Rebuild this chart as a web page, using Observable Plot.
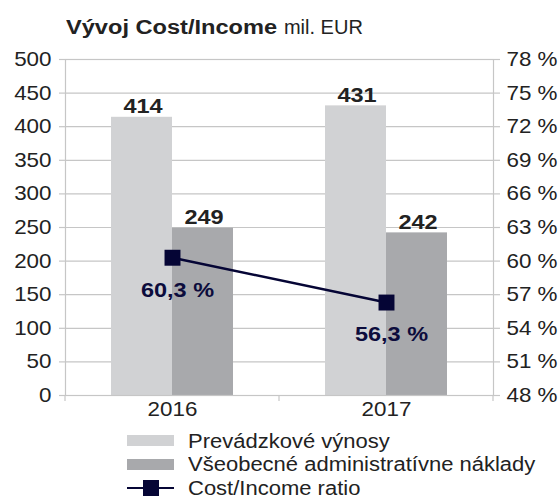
<!DOCTYPE html>
<html>
<head>
<meta charset="utf-8">
<script src="https://cdn.jsdelivr.net/npm/d3@7"></script>
<script src="https://cdn.jsdelivr.net/npm/@observablehq/plot@0.6"></script>
<style>
  html, body { margin: 0; padding: 0; background: #fff; }
  body { width: 559px; height: 498px; overflow: hidden; font-family: "Liberation Sans", Arial, sans-serif; color: #222; }
  #title { height: 44px; box-sizing: border-box; padding: 15px 0 0 66px; font-size: 20px; line-height: 24px; white-space: nowrap; }
  #title b { display: inline-block; transform: scaleX(1.18); transform-origin: 0 50%; margin-right: 39px; }
  #legend { padding-left: 127px; margin-top: -1px; }
  .row { display: flex; align-items: center; height: 23.5px; font-size: 20px; line-height: 22px; color: #222; white-space: nowrap; }
  .row span { display: inline-block; transform: scaleX(1.1); transform-origin: 0 50%; }
  .sw { width: 47px; height: 11px; margin-right: 14px; flex: none; }
  .ln { width: 47px; height: 16px; margin-right: 14px; position: relative; flex: none; }
  .ln::before { content: ""; position: absolute; left: 0; right: 0; top: 7px; height: 2.5px; background: #050535; }
  .ln::after { content: ""; position: absolute; left: 16px; top: 0; width: 16px; height: 16px; background: #050535; }
</style>
</head>
<body>
<div id="title"><b>Vývoj Cost/Income</b>mil. EUR</div>
<div id="chart"></div>
<div id="legend"></div>
<script>
const years = ["2016", "2017"];
const seriesNames = ["Prevádzkové výnosy", "Všeobecné administratívne náklady"];
const prevadzkoveVynosy = [414, 431];
const administrativneNaklady = [249, 242];
const costIncome = [60.3, 56.3];
const leftTicks = [0, 50, 100, 150, 200, 250, 300, 350, 400, 450, 500];
const rightTicks = [48, 51, 54, 57, 60, 63, 66, 69, 72, 75, 78];
const lineName = "Cost/Income ratio";

const colors = ["#d1d2d4", "#a8a9ac"];
const lineColor = "#050535";
const gridColor = "#c6c6c6";
const SX = 1.12;

const rMin = 48, rMax = 78, lMax = 500;
const toLeft = p => (p - rMin) / (rMax - rMin) * lMax;

const bars = years.flatMap((y, i) => [
  {year: y, s: 0, value: prevadzkoveVynosy[i]},
  {year: y, s: 1, value: administrativneNaklady[i]}
]);
const ratio = years.map((y, i) => ({year: y, pct: costIncome[i]}));

const bandTicks = (index, scales, values, dims) => {
  const xs = scales.x;
  const bw = typeof xs.bandwidth === "function" ? xs.bandwidth() : xs.bandwidth;
  const pos = years.map(y => xs(y)).concat([xs(years[years.length - 1]) + bw]);
  const g = d3.create("svg:g").attr("stroke", gridColor).attr("stroke-width", 1.2);
  const yb = dims.height - dims.marginBottom;
  for (const p of pos) g.append("line").attr("x1", p).attr("x2", p).attr("y1", yb).attr("y2", yb + 6);
  return g.node();
};

const plot = Plot.plot({
  width: 559,
  height: 386,
  marginLeft: 65,
  marginRight: 66,
  marginTop: 15,
  marginBottom: 35,
  style: {fontFamily: "Liberation Sans, Arial, sans-serif", fontSize: "20px", color: "#222", background: "#fff"},
  x: {type: "band", domain: years, padding: 0, label: null},
  y: {domain: [0, lMax], label: null},
  marks: [
    Plot.gridY(leftTicks, {stroke: gridColor, strokeOpacity: 1, strokeWidth: 1.2}),
    Plot.barY(bars.filter(d => d.s === 0), {x: "year", y: "value", fill: colors[0], insetLeft: 46, insetRight: 107}),
    Plot.barY(bars.filter(d => d.s === 1), {x: "year", y: "value", fill: colors[1], insetLeft: 107, insetRight: 46}),
    Plot.frame({stroke: gridColor, strokeWidth: 1.2}),
    Plot.axisY(leftTicks, {anchor: "left", tickSize: 6, tickPadding: 8, stroke: gridColor, strokeWidth: 1.2, fill: "#222", fontSize: 20, label: null}),
    Plot.axisY(rightTicks.map(toLeft), {anchor: "right", tickSize: 6, tickPadding: 7, stroke: gridColor, strokeWidth: 1.2, fill: "#222", fontSize: 20, label: null,
      tickFormat: v => `${Math.round(v / lMax * (rMax - rMin) + rMin)} %`}),
    Plot.axisX(years, {anchor: "bottom", tickSize: 0, tickPadding: 6, fill: "#222", fontSize: 20, label: null}),
    bandTicks,
    Plot.text(bars.filter(d => d.s === 0), {x: "year", y: "value", text: d => String(d.value), dx: -29.5, dy: -4, lineAnchor: "bottom", fontWeight: "bold", fontSize: 21, fill: "#222", ariaLabel: "bar-labels"}),
    Plot.text(bars.filter(d => d.s === 1), {x: "year", y: "value", text: d => String(d.value), dx: 31.5, dy: -4, lineAnchor: "bottom", fontWeight: "bold", fontSize: 21, fill: "#222", ariaLabel: "bar-labels"}),
    Plot.line(ratio, {x: "year", y: d => toLeft(d.pct), stroke: lineColor, strokeWidth: 2.5}),
    Plot.dot(ratio, {x: "year", y: d => toLeft(d.pct), symbol: "square", r: 9, fill: lineColor, stroke: "none"}),
    Plot.text(ratio, {x: "year", y: d => toLeft(d.pct), text: d => d.pct.toFixed(1).replace(".", ",") + " %", dx: 5, dy: 24, lineAnchor: "top", fontWeight: "bold", fontSize: 21, fill: "#0c0c3c", ariaLabel: "ratio-labels"})
  ]
});

// widen glyphs horizontally around each text's own anchor point
plot.querySelectorAll("text").forEach(t => {
  const tr = t.getAttribute("transform") || "";
  const x = +(t.getAttribute("x") || 0);
  t.setAttribute("transform", `${tr} translate(${x},0) scale(${SX},1) translate(${-x},0)`);
});
plot.querySelectorAll('g[aria-label="bar-labels"] text').forEach(t => t.style.letterSpacing = "2px");
plot.querySelectorAll('g[aria-label="ratio-labels"] text').forEach(t => t.style.letterSpacing = "1.2px");
document.getElementById("chart").appendChild(plot);

const legend = document.getElementById("legend");
seriesNames.forEach((name, i) => {
  const row = document.createElement("div");
  row.className = "row";
  const sw = document.createElement("div");
  sw.className = "sw";
  sw.style.background = colors[i];
  row.appendChild(sw);
  const tx = document.createElement("span");
  tx.textContent = name;
  row.appendChild(tx);
  legend.appendChild(row);
});
const row = document.createElement("div");
row.className = "row";
const ln = document.createElement("div");
ln.className = "ln";
row.appendChild(ln);
const tx = document.createElement("span");
tx.textContent = lineName;
row.appendChild(tx);
legend.appendChild(row);
</script>
</body>
</html>
